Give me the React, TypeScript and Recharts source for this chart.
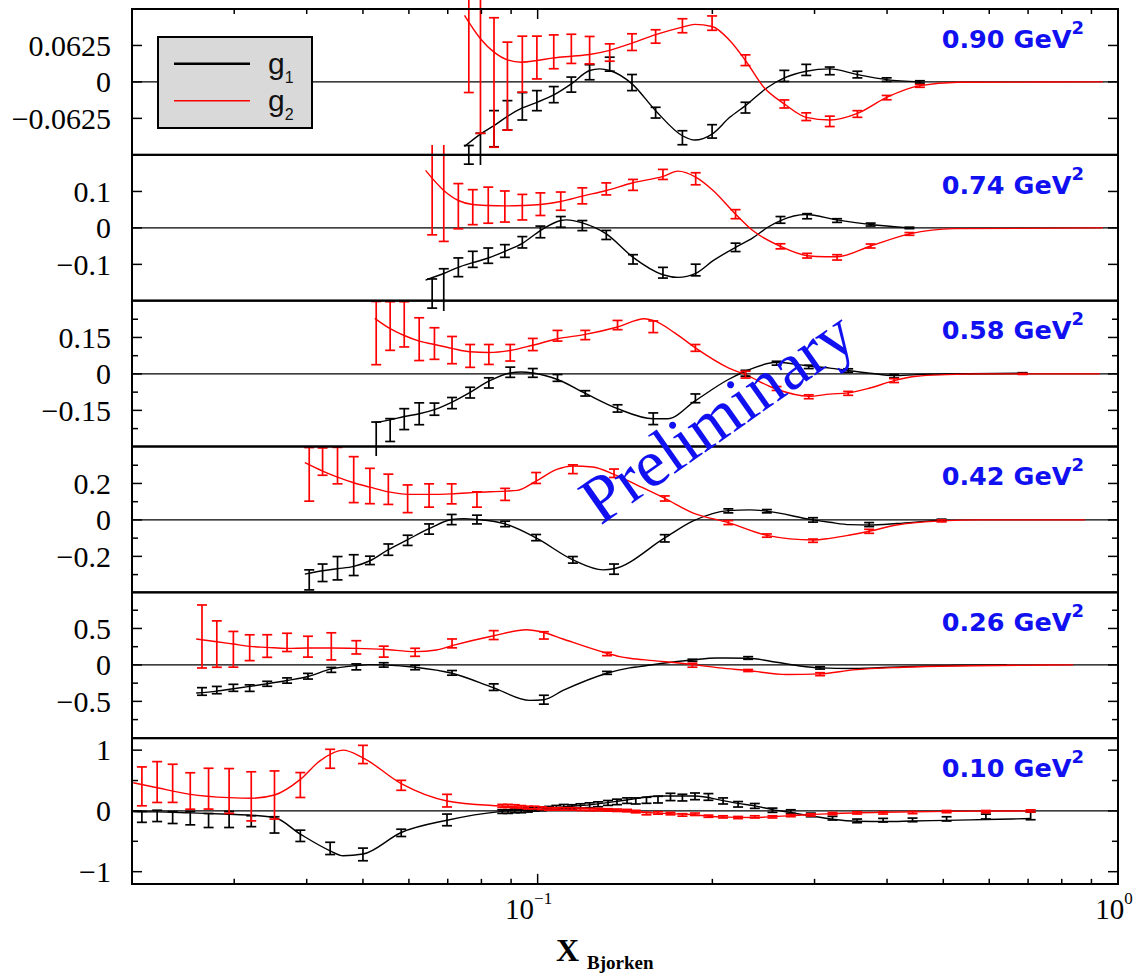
import React from "react";
import { ComposedChart, Line, Scatter, ErrorBar, XAxis, YAxis, ReferenceLine, Legend } from "recharts";

// ---------------- data ----------------
const Q2_LABELS = ["0.90", "0.74", "0.58", "0.42", "0.26", "0.10"];
const X_TICKS = [0.02, 0.03, 0.04, 0.05, 0.06, 0.07, 0.08, 0.09, 0.1, 0.2, 0.3, 0.4, 0.5, 0.6, 0.7, 0.8, 0.9, 1];
const X_TICK_LABELS: Record<string, string> = { "0.1": "\u22121", "1": "0" };
const Y_LIMITS = [0.125, 0.2, 0.3, 0.4, 1, 1.2];
const Y_TICKS = [
  [-0.0625, 0, 0.0625],
  [-0.1, 0, 0.1],
  [-0.225, -0.15, -0.075, 0, 0.075, 0.15, 0.225],
  [-0.3, -0.2, -0.1, 0, 0.1, 0.2, 0.3],
  [-0.75, -0.5, -0.25, 0, 0.25, 0.5, 0.75],
  [-1, -0.5, 0, 0.5, 1],
];
const Y_LABELED = [
  [-0.0625, 0, 0.0625],
  [-0.1, 0, 0.1],
  [-0.15, 0, 0.15],
  [-0.2, 0, 0.2],
  [-0.5, 0, 0.5],
  [-1, 0, 1],
];
const LEGEND_ITEMS = [
  { name: "g", sub: "1", color: "#000000" },
  { name: "g", sub: "2", color: "#ff0000" },
];

// Q2 = 0.90
const X_090 = [0.0761, 0.0797, 0.0841, 0.0887, 0.0941, 0.0997, 0.1066, 0.1143, 0.1229, 0.1331, 0.1454, 0.1597, 0.1776, 0.1998, 0.2281, 0.2661, 0.2903, 0.3187, 0.3556, 0.3994, 0.4556];
const G1_090 = [-0.125, -0.12, -0.0802, -0.0573, -0.0418, -0.0321, -0.0218, -0.0046, 0.0166, 0.0304, -0.0011, -0.0527, -0.0957, -0.0848, -0.0441, 0.0103, 0.0206, 0.0189, 0.0126, 0.004, 0.0];
const G1E_090 = [0.016, 0.032, 0.031, 0.0252, 0.0235, 0.0172, 0.0138, 0.0129, 0.0129, 0.012, 0.0138, 0.0092, 0.012, 0.0115, 0.0092, 0.0095, 0.0095, 0.0066, 0.0057, 0.003, 0.002];
const G2_090 = [0.0968, 0.0768, -0.001, -0.0072, 0.0304, 0.0418, 0.0516, 0.0567, 0.0544, 0.0504, 0.0682, 0.0779, 0.0963, 0.1008, 0.0372, -0.0378, -0.0596, -0.0676, -0.055, -0.0269, -0.0069];
const G2E_090 = [0.115, 0.165, 0.111, 0.0754, 0.048, 0.0367, 0.029, 0.025, 0.0235, 0.0149, 0.0143, 0.0115, 0.012, 0.0123, 0.0092, 0.0069, 0.0066, 0.0089, 0.0057, 0.0037, 0.0023];
const G1C_090 = [[0.0748, -0.1106], [0.0797, -0.0894], [0.0841, -0.075], [0.0887, -0.059], [0.0941, -0.0447], [0.0997, -0.035], [0.1066, -0.0223], [0.1143, -0.0034], [0.1229, 0.0195], [0.1279, 0.0223], [0.1331, 0.0195], [0.1454, -0.0034], [0.1597, -0.0493], [0.1776, -0.0923], [0.1865, -0.0997], [0.1998, -0.0894], [0.2143, -0.0607], [0.2281, -0.0407], [0.2492, -0.0092], [0.2661, 0.0069], [0.2903, 0.0183], [0.3187, 0.0223], [0.3556, 0.0126], [0.3994, 0.004], [0.4556, 0]];
const G2C_090 = [[0.0748, 0.114], [0.0797, 0.074], [0.0841, 0.051], [0.0887, 0.0378], [0.0937, 0.0338], [0.0997, 0.0367], [0.1066, 0.0413], [0.1143, 0.0441], [0.1229, 0.047], [0.1331, 0.054], [0.1454, 0.0665], [0.1597, 0.081], [0.1776, 0.094], [0.1865, 0.0986], [0.1998, 0.095], [0.2143, 0.0711], [0.2281, 0.0367], [0.2453, -0.0092], [0.2661, -0.0378], [0.2903, -0.0607], [0.3187, -0.0653], [0.3556, -0.054], [0.3994, -0.0264], [0.4556, -0.0063], [0.5298, -0.0006], [0.9421, 0]];

// Q2 = 0.74
const X_074 = [0.0658, 0.0689, 0.073, 0.0773, 0.0822, 0.0878, 0.0941, 0.1011, 0.1096, 0.1194, 0.1313, 0.146, 0.1644, 0.1872, 0.2193, 0.2621, 0.2913, 0.3281, 0.3748, 0.4372];
const G1_074 = [-0.18, -0.172, -0.108, -0.0862, -0.0761, -0.0633, -0.0394, -0.011, 0.0165, 0.0064, -0.0193, -0.0862, -0.1229, -0.1155, -0.0533, 0.022, 0.0321, 0.0202, 0.0092, 0.0];
const G1E_074 = [0.04, 0.06, 0.0257, 0.022, 0.021, 0.0174, 0.0156, 0.016, 0.0147, 0.0138, 0.0124, 0.0128, 0.0147, 0.016, 0.0115, 0.0092, 0.007, 0.005, 0.004, 0.002];
const G2_074 = [0.139, 0.107, 0.0596, 0.0569, 0.0624, 0.0587, 0.0569, 0.0651, 0.0734, 0.088, 0.107, 0.118, 0.1467, 0.1348, 0.0377, -0.0505, -0.0762, -0.0808, -0.0496, -0.0165];
const G2E_074 = [0.158, 0.144, 0.062, 0.048, 0.0495, 0.0426, 0.035, 0.031, 0.025, 0.022, 0.0165, 0.015, 0.0138, 0.0165, 0.0124, 0.007, 0.0064, 0.0073, 0.0055, 0.0037];
const G1C_074 = [[0.0641, -0.143], [0.0689, -0.125], [0.073, -0.108], [0.0773, -0.0954], [0.0822, -0.0825], [0.0878, -0.0642], [0.0941, -0.0422], [0.1011, -0.0073], [0.1096, 0.0202], [0.1121, 0.022], [0.1194, 0.0138], [0.1313, -0.0165], [0.146, -0.0807], [0.1644, -0.1284], [0.1745, -0.1357], [0.1872, -0.1247], [0.2006, -0.0899], [0.2193, -0.0532], [0.2348, -0.0275], [0.2492, 0.0018], [0.2621, 0.0202], [0.2898, 0.0367], [0.3281, 0.022], [0.3748, 0.0092], [0.4372, 0]];
const G2C_074 = [[0.0641, 0.1577], [0.0689, 0.1027], [0.073, 0.0752], [0.0773, 0.0642], [0.0822, 0.0614], [0.0878, 0.0605], [0.0941, 0.0614], [0.1011, 0.0642], [0.1096, 0.0724], [0.1194, 0.0871], [0.1313, 0.1027], [0.146, 0.1238], [0.1644, 0.1412], [0.1745, 0.1559], [0.1872, 0.1394], [0.2006, 0.1027], [0.2193, 0.0377], [0.2348, -0.0073], [0.2621, -0.0505], [0.2913, -0.0762], [0.3125, -0.0789], [0.3281, -0.0789], [0.3748, -0.0496], [0.4372, -0.0165], [0.5214, -0.002], [0.9421, 0]];

// Q2 = 0.58
const X_058 = [0.0527, 0.0557, 0.0589, 0.0625, 0.0664, 0.0712, 0.0765, 0.0824, 0.0897, 0.0981, 0.1082, 0.1208, 0.1373, 0.1582, 0.187, 0.2281, 0.2581, 0.2932, 0.3428, 0.4114, 0.685];
const G1_058 = [-0.278, -0.231, -0.186, -0.164, -0.145, -0.12, -0.077, -0.037, 0.0069, 0.0041, -0.0165, -0.08, -0.142, -0.1845, -0.1005, 0.0028, 0.044, 0.029, 0.014, -0.0096, 0.003];
const G1E_058 = [0.08, 0.047, 0.043, 0.045, 0.025, 0.023, 0.022, 0.021, 0.021, 0.018, 0.014, 0.011, 0.015, 0.024, 0.018, 0.012, 0.008, 0.007, 0.007, 0.007, 0.002];
const G2_058 = [0.168, 0.197, 0.204, 0.143, 0.125, 0.098, 0.074, 0.08, 0.087, 0.121, 0.157, 0.16, 0.201, 0.194, 0.107, -0.003, -0.06, -0.094, -0.08, -0.0275, 0.0];
const G2E_058 = [0.13, 0.1, 0.093, 0.088, 0.065, 0.056, 0.047, 0.041, 0.034, 0.025, 0.022, 0.019, 0.019, 0.024, 0.014, 0.014, 0.008, 0.008, 0.008, 0.008, 0.002];
const G1C_058 = [[0.0524, -0.2], [0.0557, -0.189], [0.0589, -0.175], [0.0625, -0.164], [0.0664, -0.147], [0.0712, -0.116], [0.0765, -0.076], [0.0824, -0.03], [0.0897, 0.004], [0.0936, 0.008], [0.0981, 0.004], [0.1082, -0.023], [0.1208, -0.08], [0.1373, -0.143], [0.1582, -0.1845], [0.1675, -0.1845], [0.187, -0.11], [0.2131, -0.023], [0.2281, 0.011], [0.2581, 0.048], [0.2932, 0.032], [0.3187, 0.024], [0.3428, 0.014], [0.3736, 0.003], [0.4114, -0.007], [0.4497, -0.003], [0.5066, 0], [0.685, 0.003]];
const G2C_058 = [[0.0524, 0.2286], [0.0557, 0.186], [0.0589, 0.158], [0.0625, 0.135], [0.0664, 0.121], [0.0712, 0.105], [0.0765, 0.091], [0.0824, 0.088], [0.0897, 0.0964], [0.0981, 0.118], [0.1082, 0.1446], [0.1208, 0.1625], [0.1373, 0.193], [0.1527, 0.227], [0.1582, 0.22], [0.1723, 0.169], [0.187, 0.107], [0.2131, 0.025], [0.2281, -0.003], [0.2562, -0.06], [0.2932, -0.092], [0.3187, -0.083], [0.3428, -0.078], [0.3736, -0.058], [0.4114, -0.0275], [0.4497, -0.0096], [0.5066, -0.003], [0.5783, 0], [0.9311, 0]];

// Q2 = 0.42
const X_042 = [0.0404, 0.0426, 0.0452, 0.0482, 0.0514, 0.0553, 0.0597, 0.065, 0.0711, 0.0786, 0.0879, 0.0994, 0.115, 0.1354, 0.1656, 0.2131, 0.2483, 0.2982, 0.3726, 0.4966];
const G1_042 = [-0.329, -0.29, -0.265, -0.248, -0.222, -0.163, -0.112, -0.05, 0.002, 0.002, -0.022, -0.097, -0.219, -0.27, -0.101, 0.0496, 0.0478, 0.0, -0.0257, 0.0];
const G1E_042 = [0.055, 0.048, 0.064, 0.057, 0.023, 0.031, 0.028, 0.028, 0.028, 0.024, 0.015, 0.017, 0.018, 0.028, 0.02, 0.011, 0.009, 0.012, 0.011, 0.004];
const G2_042 = [0.25, 0.32, 0.298, 0.221, 0.186, 0.168, 0.116, 0.134, 0.143, 0.112, 0.14, 0.23, 0.278, 0.256, 0.1176, -0.0147, -0.086, -0.114, -0.0625, -0.0055];
const G2E_042 = [0.147, 0.075, 0.1, 0.126, 0.097, 0.083, 0.076, 0.064, 0.055, 0.042, 0.033, 0.03, 0.024, 0.023, 0.014, 0.011, 0.009, 0.009, 0.011, 0.0055];
const G1C_042 = [[0.0397, -0.2976], [0.0426, -0.279], [0.0452, -0.268], [0.0482, -0.255], [0.0514, -0.224], [0.0553, -0.163], [0.0597, -0.108], [0.065, -0.048], [0.0711, 0.002], [0.0746, 0.007], [0.0786, 0.002], [0.0879, -0.022], [0.0994, -0.099], [0.115, -0.219], [0.1297, -0.274], [0.1354, -0.268], [0.1656, -0.099], [0.185, -0.007], [0.2131, 0.051], [0.232, 0.055], [0.2483, 0.048], [0.2982, 0], [0.3187, -0.013], [0.3451, -0.026], [0.3726, -0.0275], [0.4154, -0.02], [0.4966, 0]];
const G2C_042 = [[0.0397, 0.314], [0.0426, 0.268], [0.0452, 0.235], [0.0482, 0.204], [0.0514, 0.18], [0.0553, 0.154], [0.0597, 0.14], [0.065, 0.14], [0.0711, 0.143], [0.0786, 0.151], [0.0879, 0.158], [0.0923, 0.162], [0.0994, 0.213], [0.1079, 0.277], [0.115, 0.296], [0.1244, 0.29], [0.1354, 0.25], [0.1495, 0.186], [0.1656, 0.118], [0.185, 0.039], [0.2131, -0.015], [0.2483, -0.0845], [0.2982, -0.11], [0.3187, -0.101], [0.3451, -0.083], [0.3726, -0.0625], [0.4154, -0.0276], [0.4966, -0.0055], [0.5783, 0], [0.8772, 0]];

// Q2 = 0.26
const X_026 = [0.0264, 0.028, 0.0299, 0.0319, 0.0342, 0.037, 0.0402, 0.0441, 0.0487, 0.0543, 0.0615, 0.0712, 0.084, 0.1025, 0.1317, 0.1848, 0.2305, 0.3067];
const G1_026 = [-0.364, -0.345, -0.314, -0.318, -0.259, -0.214, -0.155, -0.068, -0.027, 0.0, -0.036, -0.109, -0.305, -0.477, -0.109, 0.064, 0.095, -0.041];
const G1E_026 = [0.052, 0.05, 0.048, 0.045, 0.034, 0.036, 0.039, 0.034, 0.041, 0.03, 0.03, 0.032, 0.045, 0.061, 0.02, 0.014, 0.018, 0.016];
const G2_026 = [0.39, 0.286, 0.214, 0.236, 0.259, 0.309, 0.25, 0.2545, 0.241, 0.182, 0.173, 0.295, 0.409, 0.405, 0.15, -0.0045, -0.077, -0.127];
const G2E_026 = [0.432, 0.318, 0.245, 0.177, 0.155, 0.125, 0.143, 0.186, 0.091, 0.075, 0.055, 0.061, 0.061, 0.05, 0.023, 0.027, 0.014, 0.02];
const G1C_026 = [[0.0258, -0.386], [0.028, -0.359], [0.0299, -0.327], [0.0319, -0.295], [0.0342, -0.259], [0.037, -0.214], [0.0402, -0.159], [0.0441, -0.055], [0.0487, -0.009], [0.0513, 0.0045], [0.0543, 0], [0.0615, -0.032], [0.0712, -0.114], [0.084, -0.314], [0.0969, -0.486], [0.1025, -0.477], [0.1106, -0.35], [0.1317, -0.114], [0.1385, -0.068], [0.1441, -0.041], [0.1499, -0.023], [0.1644, 0.023], [0.1848, 0.068], [0.2033, 0.095], [0.2305, 0.091], [0.258, 0.036], [0.2829, -0.014], [0.3067, -0.041], [0.3496, -0.05], [0.4263, -0.023], [0.52, -0.009], [0.6428, 0]];
const G2C_026 = [[0.0258, 0.355], [0.028, 0.318], [0.0299, 0.286], [0.0319, 0.2545], [0.0342, 0.241], [0.037, 0.227], [0.0402, 0.232], [0.0441, 0.232], [0.0487, 0.227], [0.0543, 0.214], [0.0615, 0.182], [0.0669, 0.2045], [0.0712, 0.264], [0.084, 0.4], [0.0956, 0.482], [0.1025, 0.445], [0.1106, 0.355], [0.1317, 0.159], [0.1385, 0.114], [0.1441, 0.091], [0.1581, 0.059], [0.1848, 0.0045], [0.206, -0.041], [0.2305, -0.077], [0.2684, -0.132], [0.3067, -0.123], [0.3496, -0.068], [0.4263, -0.032], [0.52, -0.014], [0.8373, 0]];

// Q2 = 0.10
const X_010 = [0.0208, 0.0221, 0.0235, 0.0252, 0.0271, 0.0294, 0.0321, 0.0352, 0.039, 0.0439, 0.05, 0.0582, 0.0698,
  0.0869, 0.0889, 0.0913, 0.0937, 0.0962, 0.0988, 0.1017, 0.1046, 0.1077, 0.1109, 0.1146, 0.1185, 0.1229, 0.1271, 0.1322, 0.137, 0.1426,
  0.1476, 0.154, 0.1612, 0.1694, 0.1776, 0.1867, 0.1969, 0.2087, 0.2215, 0.2367, 0.2539, 0.273, 0.2956, 0.3222, 0.3552, 0.3938, 0.4426, 0.5066, 0.5921, 0.7071];
const G1_010 = [-0.098, -0.082, -0.109, -0.12, -0.158, -0.142, -0.169, -0.23, -0.41, -0.617, -0.716, -0.361, -0.148,
  -0.011, -0.011, 0, 0, 0.011, 0.027, 0.033, 0.044, 0.055, 0.071, 0.066, 0.082, 0.093, 0.109, 0.131, 0.148, 0.169,
  0.164, 0.175, 0.186, 0.23, 0.219, 0.24, 0.23, 0.164, 0.109, 0.082, 0.011, -0.011, -0.066, -0.12, -0.164, -0.153, -0.148, -0.131, -0.093, -0.082];
const G1E_010 = [0.09, 0.093, 0.098, 0.109, 0.115, 0.131, 0.09, 0.134, 0.093, 0.101, 0.104, 0.06, 0.096,
  0.03, 0.03, 0.03, 0.03, 0.03, 0.03, 0.03, 0.03, 0.035, 0.035, 0.035, 0.035, 0.04, 0.04, 0.04, 0.045, 0.045,
  0.05, 0.05, 0.055, 0.06, 0.055, 0.055, 0.055, 0.05, 0.045, 0.04, 0.035, 0.03, 0.03, 0.03, 0.03, 0.03, 0.03, 0.035, 0.04, 0.063];
const G2_010 = [0.404, 0.475, 0.454, 0.328, 0.366, 0.328, 0.24, 0.262, 0.426, 0.858, 0.929, 0.421, 0.169,
  0.082, 0.082, 0.0765, 0.066, 0.055, 0.055, 0.044, 0.033, 0.033, 0.033, 0.033, 0.027, 0.022, 0.022, 0.016, 0.011, 0.005,
  -0.011, -0.044, -0.033, -0.044, -0.066, -0.055, -0.087, -0.098, -0.109, -0.098, -0.098, -0.077, -0.066, -0.044, -0.033, -0.033, -0.027, -0.011, -0.011, 0];
const G2E_010 = [0.32, 0.336, 0.314, 0.3, 0.336, 0.369, 0.404, 0.396, 0.205, 0.156, 0.15, 0.082, 0.104,
  0.025, 0.025, 0.025, 0.022, 0.022, 0.022, 0.022, 0.02, 0.02, 0.02, 0.02, 0.02, 0.02, 0.02, 0.02, 0.02, 0.02,
  0.02, 0.02, 0.02, 0.02, 0.02, 0.02, 0.018, 0.018, 0.018, 0.018, 0.018, 0.018, 0.018, 0.018, 0.018, 0.018, 0.018, 0.018, 0.018, 0.018];
const G1C_010 = [[0.0201, -0.016], [0.0221, -0.016], [0.0252, -0.033], [0.0294, -0.055], [0.0321, -0.071], [0.0352, -0.109], [0.039, -0.382], [0.0439, -0.656], [0.0462, -0.738], [0.05, -0.71], [0.0582, -0.355], [0.0698, -0.153], [0.086, -0.011], [0.0988, 0.02], [0.1106, 0.066], [0.1229, 0.1], [0.1426, 0.18], [0.1623, 0.245], [0.1867, 0.245], [0.2087, 0.17], [0.2215, 0.125], [0.2367, 0.082], [0.2539, 0.022], [0.273, -0.027], [0.2956, -0.082], [0.3222, -0.137], [0.3552, -0.17], [0.3992, -0.175], [0.4426, -0.165], [0.5066, -0.155], [0.5921, -0.142], [0.7071, -0.126]];
const G2C_010 = [[0.0201, 0.464], [0.0221, 0.382], [0.0252, 0.273], [0.0294, 0.2186], [0.0321, 0.208], [0.0352, 0.262], [0.039, 0.519], [0.0421, 0.82], [0.0462, 1.0], [0.05, 0.874], [0.0582, 0.448], [0.0698, 0.164], [0.086, 0.082], [0.1106, 0.044], [0.1385, 0.011], [0.1581, -0.033], [0.1807, -0.055], [0.206, -0.098], [0.2348, -0.109], [0.273, -0.077], [0.3222, -0.044], [0.3938, -0.022], [0.5066, -0.008], [0.7071, 0]];

// ---------------- layout constants ----------------
const W = 1136;
const PL = 132;
const PR = 1118;
const TOP = 9;
const BOTTOM = 884;
const PH = (BOTTOM - TOP) / 6;
const PAD = 10;
const BLUE = "#1010f0";
const SERIF = "'Liberation Serif', 'DejaVu Serif', serif";
const SERIF_STYLE = { fontFamily: SERIF };

const pts = (xs: number[], ys: number[], es: number[]) => xs.map((x, i) => ({ x, y: ys[i], e: es[i] }));
const crv = (c: number[][]) => c.map(([x, y]) => ({ x, y }));

const PANELS = [
  { g1: pts(X_090, G1_090, G1E_090), g2: pts(X_090, G2_090, G2E_090), c1: crv(G1C_090), c2: crv(G2C_090) },
  { g1: pts(X_074, G1_074, G1E_074), g2: pts(X_074, G2_074, G2E_074), c1: crv(G1C_074), c2: crv(G2C_074) },
  { g1: pts(X_058, G1_058, G1E_058), g2: pts(X_058, G2_058, G2E_058), c1: crv(G1C_058), c2: crv(G2C_058) },
  { g1: pts(X_042, G1_042, G1E_042), g2: pts(X_042, G2_042, G2E_042), c1: crv(G1C_042), c2: crv(G2C_042) },
  { g1: pts(X_026, G1_026, G1E_026), g2: pts(X_026, G2_026, G2E_026), c1: crv(G1C_026), c2: crv(G2C_026) },
  { g1: pts(X_010, G1_010, G1E_010), g2: pts(X_010, G2_010, G2E_010), c1: crv(G1C_010), c2: crv(G2C_010) },
];

function YTick(props: any) {
  const { y, payload, labeled } = props;
  const v = payload.value;
  const major = labeled.includes(v);
  const len = major ? 10 : 6;
  const label = v === 0 ? "0" : (v < 0 ? "\u2212" : "") + String(Math.abs(v));
  return (
    <g>
      <line x1={PL} x2={PL + len} y1={y} y2={y} stroke="#000" strokeWidth={1.5} />
      <line x1={PR - len} x2={PR} y1={y} y2={y} stroke="#000" strokeWidth={1.5} />
      {major && (
        <text x={111} y={y + 10.3} textAnchor="end" style={{ ...SERIF_STYLE, fontSize: 30 }} fill="#000">
          {label}
        </text>
      )}
    </g>
  );
}

function XTick(props: any) {
  const { x, payload, side, edge } = props;
  const v = payload.value;
  const exp = X_TICK_LABELS[String(v)];
  const major = exp !== undefined;
  const len = major ? 10 : 5;
  const dir = side === "top" ? 1 : -1;
  const shift = major && exp.length > 1 ? 9 : 4;
  return (
    <g>
      <line x1={x} x2={x} y1={edge} y2={edge + dir * len} stroke="#000" strokeWidth={1.5} />
      {side === "bottom" && major && (
        <text x={x - shift} y={edge + 35.5} textAnchor="middle" style={{ ...SERIF_STYLE, fontSize: 29 }} fill="#000">
          10
          <tspan style={{ fontSize: 17 }} dy={-15}>{exp}</tspan>
        </text>
      )}
    </g>
  );
}

function LegendBox() {
  return (
    <svg width={156} height={93} style={{ display: "block" }}>
      <rect x={1} y={1} width={154} height={91} fill="#d9d9d9" stroke="#000" strokeWidth={2} />
      {LEGEND_ITEMS.map((it, i) => (
        <g key={i}>
          <line x1={17} x2={93} y1={27.7 + i * 37} y2={27.7 + i * 37} stroke={it.color} strokeWidth={i === 0 ? 2.5 : 1.6} />
          <text x={111} y={38 + i * 37} style={{ fontFamily: "'Liberation Sans', Arial, sans-serif", fontSize: 30 }} fill="#111">
            {it.name}
            <tspan style={{ fontSize: 16 }} dy={8.5}>{it.sub}</tspan>
          </text>
        </g>
      ))}
    </svg>
  );
}

function PanelChart({ k }: { k: number }) {
  const p = PANELS[k];
  const lim = Y_LIMITS[k];
  const isTop = k === 0;
  const isBottom = k === 5;
  const height = isBottom ? PH + PAD + 90 : PH + 2 * PAD;
  const margin = { top: isTop ? 0 : PAD, right: W - PR, bottom: isBottom ? 0 : PAD, left: 0 };
  const top = TOP + k * PH - PAD;
  return (
    <div style={{ position: "absolute", left: 0, top, width: W, height }}>
      <ComposedChart width={W} height={height} margin={margin}>
        <XAxis
          type="number"
          dataKey="x"
          scale="log"
          domain={[0.02, 1]}
          allowDataOverflow
          ticks={X_TICKS}
          interval={0}
          hide={!isTop && !isBottom}
          orientation={isTop ? "top" : "bottom"}
          height={isTop ? PAD : 90}
          axisLine={false}
          tickLine={false}
          tick={(tp: any) => <XTick {...tp} side={isTop ? "top" : "bottom"} edge={isTop ? PAD : PAD + PH} />}
        />
        <YAxis
          type="number"
          dataKey="y"
          domain={[-lim, lim]}
          allowDataOverflow
          ticks={Y_TICKS[k]}
          interval={0}
          width={PL}
          axisLine={false}
          tickLine={false}
          tick={(tp: any) => <YTick {...tp} labeled={Y_LABELED[k]} />}
        />
        <ReferenceLine y={0} stroke="#000" strokeWidth={1.4} />
        <Line data={p.c1} dataKey="y" type="monotone" stroke="#000" strokeWidth={1.4} dot={false} isAnimationActive={false} name="g1" />
        <Line data={p.c2} dataKey="y" type="monotone" stroke="#ff0000" strokeWidth={1.4} dot={false} isAnimationActive={false} name="g2" />
        <Scatter data={p.g1} dataKey="y" shape={() => <g />} isAnimationActive={false} name="g1 data">
          <ErrorBar dataKey="e" direction="y" width={5} stroke="#000" strokeWidth={1.7} />
        </Scatter>
        <Scatter data={p.g2} dataKey="y" shape={() => <g />} isAnimationActive={false} name="g2 data">
          <ErrorBar dataKey="e" direction="y" width={5} stroke="#ff0000" strokeWidth={1.7} />
        </Scatter>
        {isTop && (
          <Legend
            layout="horizontal"
            verticalAlign="middle"
            align="center"
            wrapperStyle={{ left: 157, top: 36.3 - top, width: 156, height: 93 }}
            content={() => <LegendBox />}
          />
        )}
      </ComposedChart>
    </div>
  );
}

export default function App() {
  return (
    <div style={{ position: "absolute", left: 0, top: 0, width: W, height: 974, background: "#fff", overflow: "hidden" }}>
      {PANELS.map((_, k) => (
        <PanelChart key={k} k={k} />
      ))}
      <svg width={W} height={974} style={{ position: "absolute", left: 0, top: 0, pointerEvents: "none" }}>
        {PANELS.map((_, k) => (
          <rect key={"f" + k} x={PL} y={TOP + k * PH} width={PR - PL} height={PH} fill="none" stroke="#000" strokeWidth={2} />
        ))}
        {Q2_LABELS.map((q, k) => (
          <text key={"q" + k} x={941.7} y={TOP + k * PH + 38.8} style={{ fontFamily: "'DejaVu Sans', sans-serif", fontWeight: "bold", fontSize: 25.5 }} fill={BLUE}>
            {q} GeV
            <tspan style={{ fontSize: 18 }} dy={-14}>2</tspan>
          </text>
        ))}
        <text x={730} y={435} textAnchor="middle" transform="rotate(-35 730 435)" style={{ ...SERIF_STYLE, fontSize: 67 }} fill={BLUE}>
          Preliminary
        </text>
        <text x={556} y={960.7} style={{ ...SERIF_STYLE, fontWeight: "bold", fontSize: 32 }} fill="#000">X</text>
        <text x={587} y={969} style={{ ...SERIF_STYLE, fontWeight: "bold", fontSize: 19 }} fill="#000">Bjorken</text>
      </svg>
    </div>
  );
}
